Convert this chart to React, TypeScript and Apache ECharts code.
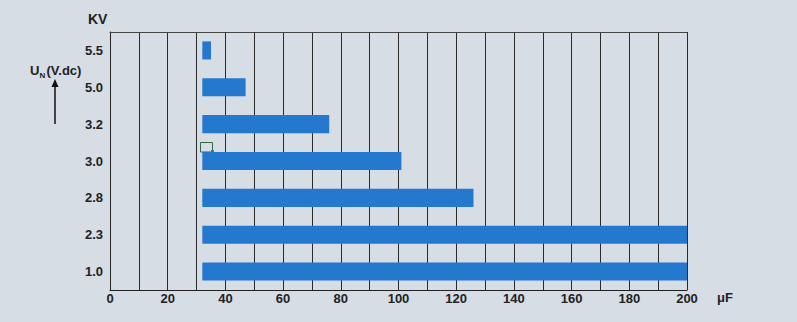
import React, { useEffect, useRef } from "react";
import * as echarts from "echarts";

const categories = ["1.0", "2.3", "2.8", "3.0", "3.2", "5.0", "5.5"];
const barStart = [32, 32, 32, 32, 32, 32, 32];
const barEnd = [200, 200, 126, 101, 76, 47, 35];
const xTicks = [0, 20, 40, 60, 80, 100, 120, 140, 160, 180, 200];

export default function App() {
  const ref = useRef<HTMLDivElement>(null);
  useEffect(() => {
    const chart = echarts.init(ref.current!, null, { renderer: "svg" });
    const bold = { fontFamily: "Liberation Sans, Arial, sans-serif", fontWeight: "bold" as const, fontSize: 13, color: "#222" };
    const font = (s: number) => `bold ${s}px Liberation Sans, Arial, sans-serif`;
    chart.setOption({
      animation: false,
      backgroundColor: "#d6dde5",
      grid: { left: 110, right: 110, top: 32, bottom: 32, containLabel: false },
      xAxis: [
        {
          type: "value",
          min: 0,
          max: 200,
          interval: 10,
          axisLine: { show: true, onZero: false, lineStyle: { color: "#222", width: 1 } },
          axisTick: { show: false },
          axisLabel: {
            ...bold,
            margin: 2,
            formatter: (v: number) => (xTicks.includes(v) ? String(v) : ""),
          },
          splitLine: { show: true, lineStyle: { color: "#2a2a2a", width: 1 } },
        },
        {
          type: "value",
          position: "top",
          min: 0,
          max: 200,
          interval: 10,
          axisLine: { show: true, onZero: false, lineStyle: { color: "#444", width: 1 } },
          axisTick: { show: false },
          axisLabel: { show: false },
          splitLine: { show: false },
        },
      ],
      yAxis: {
        type: "category",
        data: categories,
        axisLine: { show: true, lineStyle: { color: "#222", width: 1 } },
        axisTick: { show: false },
        axisLabel: { ...bold, margin: 7 },
        splitLine: { show: false },
      },
      series: [
        {
          type: "bar",
          stack: "s",
          data: barStart,
          itemStyle: { color: "transparent" },
          barWidth: "49%",
          silent: true,
        },
        {
          type: "bar",
          stack: "s",
          data: barEnd.map((e, i) => e - barStart[i]),
          itemStyle: { color: "#2479cf" },
          barWidth: "49%",
        },
      ],
      graphic: [
        { type: "text", left: 88, top: 12, style: { text: "KV", fill: "#222", font: font(14) } },
        { type: "text", left: 717, top: 291, style: { text: "μF", fill: "#222", font: font(13) } },
        { type: "text", left: 30, top: 64, style: { text: "U", fill: "#222", font: font(13) } },
        { type: "text", left: 39.5, top: 71, style: { text: "N", fill: "#222", font: font(8) } },
        { type: "text", left: 46.5, top: 64, style: { text: "(V.dc)", fill: "#222", font: font(13) } },
        { type: "line", shape: { x1: 55, y1: 124, x2: 55, y2: 85 }, style: { stroke: "#111", lineWidth: 1.5 } },
        { type: "polygon", shape: { points: [[55, 79], [51.5, 87], [58.5, 87]] }, style: { fill: "#111" } },
        { type: "rect", shape: { x: 200.5, y: 142.5, width: 12, height: 9.5 }, style: { fill: "#d6dde5", stroke: "#2e6b45", lineWidth: 1 } },
        { type: "rect", shape: { x: 211, y: 150, width: 3, height: 3 }, style: { fill: "#2e8b55" } },
      ],
    });
    return () => chart.dispose();
  }, []);
  return <div ref={ref} style={{ width: 797, height: 322, position: "absolute", left: 0, top: 0 }} />;
}
